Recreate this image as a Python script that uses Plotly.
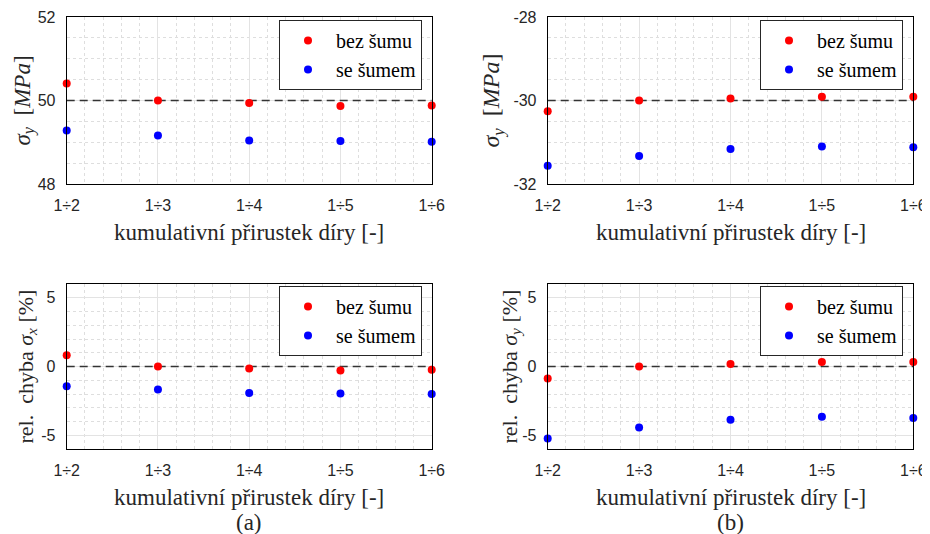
import plotly.graph_objects as go

# ---------------- data ----------------
categories = ["1÷2", "1÷3", "1÷4", "1÷5", "1÷6"]
series_names = ["bez šumu", "se šumem"]

# (a) top: sigma_y [MPa] (ref 50)
a_top_bez = [50.41, 50.00, 49.94, 49.87, 49.88]
a_top_se = [49.28, 49.16, 49.04, 49.03, 49.01]
# (b) top: sigma_y [MPa] (ref -30)
b_top_bez = [-30.26, -30.00, -29.95, -29.91, -29.91]
b_top_se = [-31.56, -31.33, -31.16, -31.10, -31.12]
# (a) bottom: rel. error sigma_x [%]
a_bot_bez = [0.82, 0.00, -0.14, -0.29, -0.24]
a_bot_se = [-1.44, -1.68, -1.92, -1.97, -2.00]
# (b) bottom: rel. error sigma_y [%]
b_bot_bez = [-0.87, 0.00, 0.19, 0.33, 0.33]
b_bot_se = [-5.24, -4.43, -3.87, -3.66, -3.75]

ref_values = [50, -30, 0, 0]
y_ranges = [[48, 52], [-32, -28], [-6, 6], [-6, 6]]
y_ticks = [[48, 50, 52], [-32, -30, -28], [-5, 0, 5], [-5, 0, 5]]
y_ticklabels = [["48", "50", "52"], ["-32", "-30", "-28"], ["-5", "0", "5"], ["-5", "0", "5"]]
y_minor = [0.5, 0.5, 1, 1]

x_title = "kumulativní přirustek díry [-]"
y_titles = [
    "<i>σ<sub>y</sub></i>  [<i>MPa</i>]",
    "<i>σ<sub>y</sub></i>  [<i>MPa</i>]",
    "rel.  chyba <i>σ<sub>x</sub></i> [%]",
    "rel.  chyba <i>σ<sub>y</sub></i> [%]",
]
captions = ["(a)", "(b)"]

# the page body has an 8px margin: the figure starts at (8, 8) of the window
OFF = 8
W, H = 930 - OFF, 534 - OFF
RED, BLUE = "#ff0000", "#0000ff"
SERIF = "Times New Roman"
SANS = "Arial"
TXT = "#262626"

# panel pixel boxes in window coords: (x0, x1, ytop, ybottom)
boxes = [
    (66.7, 431.7, 17, 184),
    (547.7, 913.3, 17, 184),
    (66.7, 431.7, 284, 449),
    (547.7, 913.3, 284, 449),
]
legend_pos = [(279, 55), (760, 55), (279, 321), (760, 321)]  # left, vertical centre
ytitle_x = [24, 493, 26, 510]
ytitle_size = [23, 24, 22, 22]


def px(x):
    return (x - OFF) / W


def py(y):
    return 1 - (y - OFF) / H


data_sets = [
    (a_top_bez, a_top_se),
    (b_top_bez, b_top_se),
    (a_bot_bez, a_bot_se),
    (b_bot_bez, b_bot_se),
]

xs = list(range(len(categories)))
fig = go.Figure()
layout = {}
annotations = []

for i, ((x0, x1, yt, yb), (bez, se)) in enumerate(zip(boxes, data_sets)):
    n = "" if i == 0 else str(i + 1)
    xa, ya = "x" + n, "y" + n
    lg = "legend" + n
    # reference dashed line
    fig.add_trace(go.Scatter(
        x=[xs[0], xs[-1]], y=[ref_values[i]] * 2, mode="lines",
        line=dict(color="#333333", width=1.6, dash="8px,5px"),
        xaxis=xa, yaxis=ya, showlegend=False, hoverinfo="skip"))
    for vals, name, col in ((bez, series_names[0], RED), (se, series_names[1], BLUE)):
        fig.add_trace(go.Scatter(
            x=xs, y=vals, mode="markers", name=name,
            marker=dict(color=col, size=8, line=dict(width=0)),
            xaxis=xa, yaxis=ya, legend=lg, cliponaxis=False))

    common = dict(showline=True, linecolor="#000000", linewidth=1, mirror=True,
                  showgrid=True, gridcolor="#e3e3e3", gridwidth=1, zeroline=False,
                  ticks="", automargin=False,
                  tickfont=dict(family=SANS, size=16, color=TXT))
    layout["xaxis" + n] = dict(
        common, domain=[px(x0), px(x1)], anchor=ya, range=[xs[0], xs[-1]],
        tickmode="array", tickvals=xs, ticktext=categories,
        ticklabelstandoff=7,
        minor=dict(dtick=0.2, showgrid=True, gridcolor="#dedede", griddash="dot", gridwidth=1))
    layout["yaxis" + n] = dict(
        common, domain=[py(yb), py(yt)], anchor=xa, range=y_ranges[i],
        tickmode="array", tickvals=y_ticks[i], ticktext=y_ticklabels[i],
        ticklabelstandoff=7,
        minor=dict(dtick=y_minor[i], tick0=y_ranges[i][0], showgrid=True,
                   gridcolor="#dedede", griddash="dot", gridwidth=1))
    lx, ly = legend_pos[i]
    layout[lg] = dict(x=px(lx), y=py(ly), xanchor="left", yanchor="middle",
                      xref="paper", yref="paper",
                      bgcolor="white", bordercolor="#262626", borderwidth=1,
                      font=dict(family=SERIF, size=20, color="#000000"),
                      itemwidth=46, tracegroupgap=0)
    # y title
    annotations.append(dict(
        text=y_titles[i], x=px(ytitle_x[i]), y=py((yt + yb) / 2),
        xref="paper", yref="paper", xanchor="center", yanchor="middle",
        textangle=-90, showarrow=False,
        font=dict(family=SERIF, size=ytitle_size[i], color=TXT)))
    # x title
    xt_y = 233 if i < 2 else 497
    annotations.append(dict(
        text=x_title, x=px((x0 + x1) / 2), y=py(xt_y),
        xref="paper", yref="paper", xanchor="center", yanchor="middle",
        showarrow=False, font=dict(family=SERIF, size=23, color=TXT)))

for j, cap in enumerate(captions):
    x0, x1 = boxes[2 + j][0], boxes[2 + j][1]
    annotations.append(dict(
        text=cap, x=px((x0 + x1) / 2), y=py(522),
        xref="paper", yref="paper", xanchor="center", yanchor="middle",
        showarrow=False, font=dict(family=SERIF, size=23, color=TXT)))

fig.update_layout(
    width=W, height=H, margin=dict(l=0, r=0, t=0, b=0, pad=0, autoexpand=False),
    font=dict(family=SERIF, color=TXT),
    paper_bgcolor="white", plot_bgcolor="white",
    annotations=annotations, **layout)

fig.write_html("out.html")
